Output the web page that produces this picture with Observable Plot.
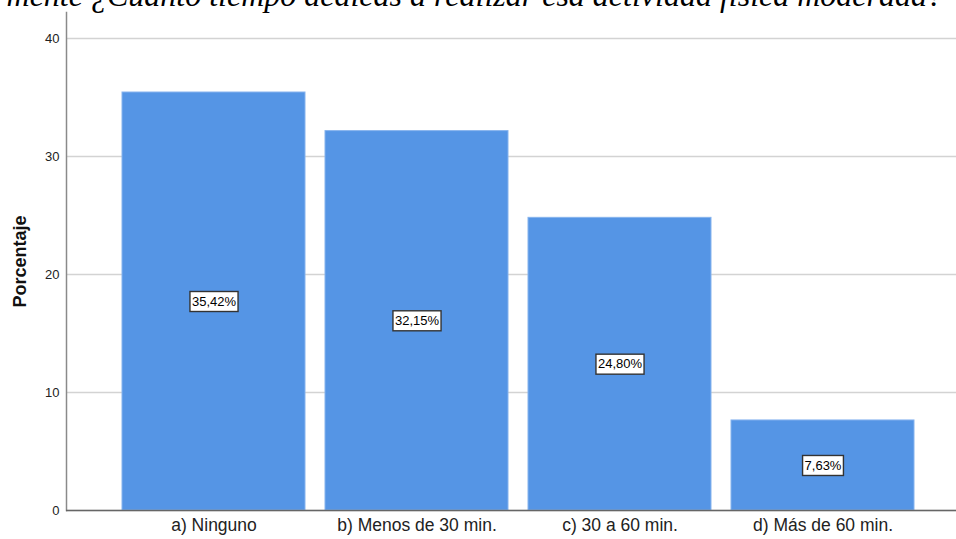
<!DOCTYPE html>
<html>
<head>
<meta charset="utf-8">
<script src="https://cdn.jsdelivr.net/npm/d3@7"></script>
<script src="https://cdn.jsdelivr.net/npm/@observablehq/plot@0.6"></script>
<style>
  html, body { margin: 0; padding: 0; background: #fff; }
  #wrap { position: relative; width: 956px; height: 539px; overflow: hidden; }
  #title {
    position: absolute; right: 13px; top: -25px;
    font: italic 32px "Liberation Serif", "DejaVu Serif", serif;
    color: #000; white-space: nowrap; line-height: 40px;
  }
  #chart { position: absolute; left: 0; top: 0; }
</style>
</head>
<body>
<div id="wrap">
  <div id="title">mente ¿Cuánto tiempo dedicas a realizar esa actividad física moderada?</div>
  <div id="chart"></div>
</div>
<script>
// Response categories and their share of respondents (%)
const categories = ["a) Ninguno", "b) Menos de 30 min.", "c) 30 a 60 min.", "d) Más de 60 min."];
const percentages = [35.42, 32.15, 24.80, 7.63];
const yTicks = [0, 10, 20, 30, 40];

const data = categories.map((c, i) => ({category: c, pct: percentages[i]}));
const fmt = v => v.toFixed(2).replace(".", ",") + "%";

// Text width helper for the boxed value labels
const ctx2d = document.createElement("canvas").getContext("2d");
ctx2d.font = "13px 'Liberation Sans', Arial, sans-serif";

const chart = Plot.plot({
  width: 956,
  height: 539,
  marginTop: 12,
  marginBottom: 29,
  marginLeft: 66,
  marginRight: 0,
  style: {fontFamily: "'Liberation Sans', Arial, sans-serif", background: "transparent"},
  x: {domain: categories, range: [121, 915], paddingInner: 0.1, paddingOuter: 0, label: null},
  y: {domain: [0, 42.2], label: null},
  marks: [
    Plot.gridY(yTicks, {stroke: "#d3d3d3", strokeOpacity: 1, strokeWidth: 1.5}),
    Plot.barY(data, {x: "category", y: "pct", fill: "#5595e5", stroke: "#86b3ee", strokeWidth: 1}),
    Plot.frame({anchor: "left", stroke: "#8a8a8a", strokeWidth: 1.5}),
    Plot.ruleY([0], {stroke: "#666", strokeWidth: 1.5}),
    Plot.axisY(yTicks, {tickSize: 0, tickPadding: 7, fontSize: 13, fill: "#222"}),
    Plot.axisX({tickSize: 0, tickPadding: 8, fontSize: 17.5, fill: "#222"}),
    // Value labels in white boxes at mid-height of each bar
    Plot.text(data, {
      x: "category",
      y: d => d.pct / 2,
      text: d => fmt(d.pct),
      fontSize: 13,
      fill: "#000",
      render(index, scales, values, dimensions, context, next) {
        const g = next(index, scales, values, dimensions, context);
        const sel = d3.select(g);
        for (const i of index) {
          const w = ctx2d.measureText(fmt(data[i].pct)).width + 4;
          sel.insert("rect", ":first-child")
            .attr("x", values.x[i] - w / 2)
            .attr("y", values.y[i] - 10)
            .attr("width", w)
            .attr("height", 20)
            .attr("fill", "#fff")
            .attr("stroke", "#333")
            .attr("stroke-width", 1.4);
        }
        return g;
      }
    }),
    Plot.text(["Porcentaje"], {
      frameAnchor: "left", dx: -46, rotate: -90, textAnchor: "middle",
      fontSize: 18, fontWeight: "bold", fill: "#111"
    })
  ]
});

document.getElementById("chart").append(chart);
</script>
</body>
</html>
